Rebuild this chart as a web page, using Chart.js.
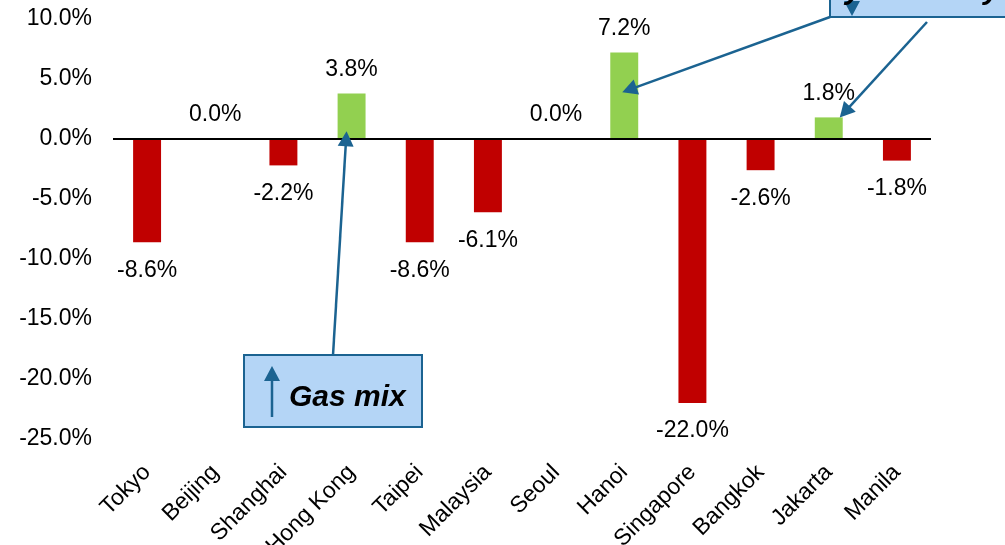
<!DOCTYPE html>
<html>
<head>
<meta charset="utf-8">
<script src="https://cdn.jsdelivr.net/npm/chart.js@4.4.1/dist/chart.umd.min.js"></script>
<style>
  body { margin: 0; background: #fff; }
  #grafico { display: block; }
</style>
</head>
<body>
<canvas id="grafico" width="1005" height="545"></canvas>
<script>
// città e variazioni percentuali
const citta = ["Tokyo", "Beijing", "Shanghai", "Hong Kong", "Taipei", "Malaysia", "Seoul", "Hanoi", "Singapore", "Bangkok", "Jakarta", "Manila"];
const variazioni = [-8.6, 0.0, -2.2, 3.8, -8.6, -6.1, 0.0, 7.2, -22.0, -2.6, 1.8, -1.8];

// asse y
const yMin = -25;
const yMax = 10;
const yPasso = 5;

const verde = "#92D050";
const rosso = "#C00000";
const blu = "#1B6391";
const azzurro = "#B4D5F6";
const font = "'Liberation Sans', Arial, sans-serif";

// freccia con punta triangolare
function freccia(ctx, x1, y1, x2, y2) {
  const ang = Math.atan2(y2 - y1, x2 - x1);
  const lung = 15;
  const largh = 8;
  ctx.save();
  ctx.strokeStyle = blu;
  ctx.fillStyle = blu;
  ctx.lineWidth = 2.5;
  ctx.beginPath();
  ctx.moveTo(x1, y1);
  ctx.lineTo(x2 - Math.cos(ang) * lung * 0.8, y2 - Math.sin(ang) * lung * 0.8);
  ctx.stroke();
  ctx.beginPath();
  ctx.moveTo(x2, y2);
  ctx.lineTo(x2 - Math.cos(ang) * lung - Math.sin(ang) * largh, y2 - Math.sin(ang) * lung + Math.cos(ang) * largh);
  ctx.lineTo(x2 - Math.cos(ang) * lung + Math.sin(ang) * largh, y2 - Math.sin(ang) * lung - Math.cos(ang) * largh);
  ctx.closePath();
  ctx.fill();
  ctx.restore();
}

// riquadro azzurro con bordo blu
function riquadro(ctx, x, y, w, h) {
  ctx.save();
  ctx.fillStyle = azzurro;
  ctx.strokeStyle = blu;
  ctx.lineWidth = 2;
  ctx.fillRect(x, y, w, h);
  ctx.strokeRect(x, y, w, h);
  ctx.restore();
}

// etichette con il valore sopra/sotto ogni barra
const etichette = {
  id: "etichette",
  afterDatasetsDraw(chart) {
    const ctx = chart.ctx;
    const meta = chart.getDatasetMeta(0);
    ctx.save();
    ctx.font = "23px " + font;
    ctx.fillStyle = "#000";
    ctx.textAlign = "center";
    ctx.textBaseline = "middle";
    meta.data.forEach((barra, i) => {
      const v = variazioni[i];
      const y = v < 0 ? barra.y + 28 : barra.y - 24;
      ctx.fillText(v.toFixed(1) + "%", barra.x, y);
    });
    ctx.restore();
  }
};

// riquadri e frecce di commento
const commenti = {
  id: "commenti",
  afterDraw(chart) {
    const ctx = chart.ctx;
    const x = chart.scales.x;
    const y = chart.scales.y;

    // "Gas mix" in basso
    riquadro(ctx, 244, 355, 178, 72);
    freccia(ctx, 272, 417, 272, 366);
    ctx.save();
    ctx.font = "italic bold 30px " + font;
    ctx.fillStyle = "#000";
    ctx.textBaseline = "alphabetic";
    ctx.fillText("Gas mix", 289, 406);
    ctx.restore();
    freccia(ctx, 333, 355, x.getPixelForValue(3) - 5, y.getPixelForValue(0.65));

    // riquadro in alto a destra (tagliato dal bordo)
    riquadro(ctx, 830, -40, 200, 57);
    freccia(ctx, 852, -10, 852, 16);
    ctx.save();
    ctx.font = "italic bold 30px " + font;
    ctx.fillStyle = "#000";
    ctx.textAlign = "right";
    ctx.fillText("Weak hydro in dry", 1000, -1);
    ctx.restore();
    freccia(ctx, 830, 17, x.getPixelForValue(7) - 2, y.getPixelForValue(3.9));
    freccia(ctx, 927, 22, x.getPixelForValue(10) + 11, y.getPixelForValue(1.8));
  }
};

new Chart(document.getElementById("grafico"), {
  type: "bar",
  data: {
    labels: citta,
    datasets: [
      {
        data: variazioni,
        backgroundColor: variazioni.map(v => (v > 0 ? verde : rosso)),
        borderWidth: 0,
        categoryPercentage: 1,
        barPercentage: 0.41
      }
    ]
  },
  options: {
    responsive: false,
    animation: false,
    devicePixelRatio: 1,
    layout: { padding: { top: 0, right: 74, bottom: 0, left: 0 } },
    plugins: {
      legend: { display: false },
      tooltip: { enabled: false }
    },
    scales: {
      x: {
        grid: { display: false, drawTicks: false },
        border: { display: false },
        ticks: {
          color: "#000",
          font: { family: font, size: 23 },
          minRotation: 45,
          maxRotation: 45,
          padding: 20,
          autoSkip: false
        },
        afterFit: s => { s.height = 106; }
      },
      y: {
        min: yMin,
        max: yMax,
        border: { display: false },
        grid: {
          drawTicks: false,
          color: c => (c.tick && c.tick.value === 0 ? "#000" : "rgba(0,0,0,0)"),
          lineWidth: 2
        },
        ticks: {
          stepSize: yPasso,
          color: "#000",
          font: { family: font, size: 23 },
          padding: 21,
          callback: v => v.toFixed(1) + "%"
        },
        afterFit: s => {
          s.width = 113;
          s.paddingTop = 19;
          s.paddingBottom = 0;
        }
      }
    }
  },
  plugins: [etichette, commenti]
});
</script>
</body>
</html>
